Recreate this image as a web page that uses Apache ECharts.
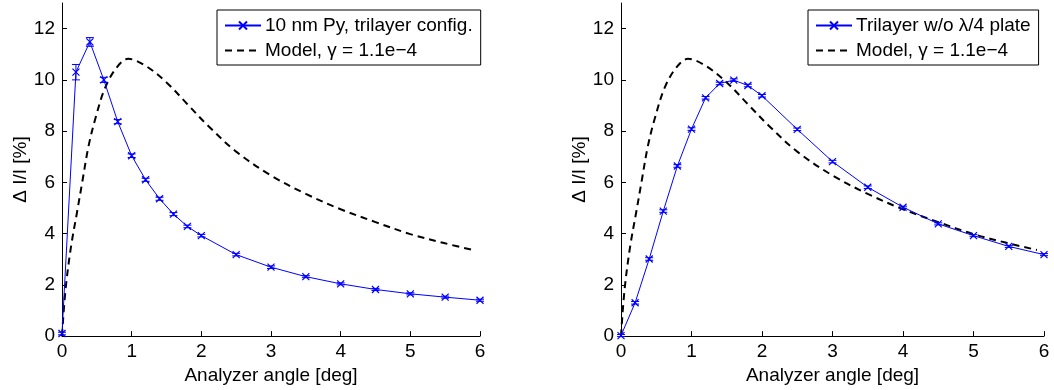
<!DOCTYPE html>
<html>
<head>
<meta charset="utf-8">
<script src="https://cdn.jsdelivr.net/npm/echarts@6/dist/echarts.min.js"></script>
<style>html,body{margin:0;padding:0;background:#fff}#c{width:1054px;height:390px}</style>
</head>
<body>
<div id="c"></div>
<script>
// ---- data ----
var angles = [0, 0.2, 0.4, 0.6, 0.8, 1.0, 1.2, 1.4, 1.6, 1.8, 2.0, 2.5, 3.0, 3.5, 4.0, 4.5, 5.0, 5.5, 6.0];
var pyTrilayer = [0.1, 10.3, 11.48, 10.0, 8.37, 7.04, 6.1, 5.36, 4.76, 4.28, 3.92, 3.18, 2.69, 2.32, 2.04, 1.82, 1.65, 1.52, 1.40];
var pyTrilayerErr = [0.05, 0.3, 0.17, 0.1, 0.08, 0.07, 0.06, 0.06, 0.06, 0.05, 0.05, 0.05, 0.05, 0.04, 0.04, 0.04, 0.04, 0.04, 0.04];
var noPlate = [0.02, 1.3, 3.01, 4.88, 6.64, 8.08, 9.3, 9.86, 9.99, 9.78, 9.38, 8.07, 6.81, 5.81, 5.03, 4.38, 3.92, 3.5, 3.18];
var noPlateErr = [0.04, 0.05, 0.05, 0.05, 0.05, 0.05, 0.05, 0.05, 0.05, 0.05, 0.05, 0.05, 0.05, 0.05, 0.04, 0.04, 0.04, 0.04, 0.04];
var modelX = [0, 0.05, 0.13, 0.22, 0.29, 0.38, 0.48, 0.62, 0.79, 0.95, 1.2, 1.5, 1.8, 2.1, 2.5, 3.0, 3.5, 4.0, 4.5, 5.0, 5.5, 5.9];
var modelY = [0, 1.8, 3.5, 4.9, 6.0, 7.4, 8.5, 9.7, 10.5, 10.82, 10.55, 9.9, 9.05, 8.2, 7.2, 6.27, 5.55, 4.95, 4.45, 3.98, 3.62, 3.36];
var xTicks = [0, 1, 2, 3, 4, 5, 6];
var yTicks = [0, 2, 4, 6, 8, 10, 12];
var nameLeft = '10 nm Py, trilayer config.';
var nameRight = 'Trilayer w/o \u03bb/4 plate';
var nameModel = 'Model, \u03b3 = 1.1e\u22124';

// ---- build ----
var FONT = 'Liberation Sans';
function zip(a, b) { return a.map(function (v, i) { return [v, b[i]]; }); }
function zip3(a, b, c) { return a.map(function (v, i) { return [v, b[i], c[i]]; }); }
var crossSym = 'path://M0,0L10,10M10,0L0,10';

function xAxisDef(gi) {
  return {
    gridIndex: gi, type: 'value', min: 0, max: 6, interval: 1,
    name: 'Analyzer angle [deg]', nameLocation: 'middle', nameGap: 24,
    nameTextStyle: { fontFamily: FONT, fontSize: 19, color: '#000' },
    axisLine: { show: true, onZero: false, lineStyle: { color: '#000', width: 1 } },
    axisTick: { show: true, inside: true, length: 5, customValues: xTicks, lineStyle: { color: '#000' } },
    axisLabel: { fontFamily: FONT, fontSize: 19, color: '#000', margin: 6, customValues: xTicks },
    splitLine: { show: false }
  };
}
function yAxisDef(gi) {
  return {
    gridIndex: gi, type: 'value', min: 0, max: 13,
    name: '\u0394 I/I [%]', nameLocation: 'middle', nameGap: 32, nameRotate: 90,
    nameTextStyle: { fontFamily: FONT, fontSize: 19, color: '#000' },
    axisLine: { show: true, onZero: false, lineStyle: { color: '#000', width: 1 } },
    axisTick: { show: true, inside: true, length: 5, customValues: yTicks, lineStyle: { color: '#000' } },
    axisLabel: { fontFamily: FONT, fontSize: 19, color: '#000', margin: 7, customValues: yTicks },
    splitLine: { show: false }
  };
}
function errSeries(gi, data) {
  return {
    type: 'custom', xAxisIndex: gi, yAxisIndex: gi, silent: true, z: 3,
    encode: { x: 0, y: 1 },
    data: data,
    renderItem: function (params, api) {
      var x = api.value(0), y = api.value(1), e = api.value(2);
      var lo = api.coord([x, y - e]), hi = api.coord([x, y + e]);
      var w = 4;
      var st = { stroke: '#0000ff', lineWidth: 1 };
      return {
        type: 'group',
        children: [
          { type: 'line', shape: { x1: lo[0], y1: lo[1], x2: hi[0], y2: hi[1] }, style: st },
          { type: 'line', shape: { x1: lo[0] - w, y1: lo[1], x2: lo[0] + w, y2: lo[1] }, style: st },
          { type: 'line', shape: { x1: hi[0] - w, y1: hi[1], x2: hi[0] + w, y2: hi[1] }, style: st }
        ]
      };
    }
  };
}
function dataSeries(gi, name, data) {
  return {
    type: 'line', name: name, xAxisIndex: gi, yAxisIndex: gi, data: data, z: 4,
    symbol: crossSym, symbolSize: 7, showSymbol: true,
    lineStyle: { color: '#0000ff', width: 1 },
    itemStyle: { color: 'rgba(0,0,0,0)', borderColor: '#0000ff', borderWidth: 1.2 },
    emphasis: { disabled: true }, animation: false
  };
}
function modelSeries(gi) {
  return {
    type: 'line', name: nameModel, xAxisIndex: gi, yAxisIndex: gi,
    data: zip(modelX, modelY), smooth: 0.35, showSymbol: false, symbol: 'none', z: 2,
    lineStyle: { color: '#000', width: 2, type: [7, 5] },
    itemStyle: { color: '#000' },
    emphasis: { disabled: true }, animation: false
  };
}
function legendDef(left, top, dataName) {
  return {
    left: left, top: top, orient: 'vertical',
    data: [
      { name: dataName },
      { name: nameModel, itemStyle: { opacity: 0 } }
    ],
    backgroundColor: '#fff', borderColor: '#000', borderWidth: 1, borderRadius: 0,
    padding: [6, 8, 5, 7], itemGap: 6, itemWidth: 36, itemHeight: 10,
    textStyle: { fontFamily: FONT, fontSize: 19, color: '#000', padding: [0, 0, 0, -1] },
    selectedMode: false
  };
}

var chart = echarts.init(document.getElementById('c'), null, { renderer: 'canvas' });
chart.setOption({
  animation: false,
  backgroundColor: '#fff',
  grid: [
    { left: 62, width: 418, top: 3, height: 334 },
    { left: 621, width: 423, top: 3, height: 334 }
  ],
  xAxis: [xAxisDef(0), xAxisDef(1)],
  yAxis: [yAxisDef(0), yAxisDef(1)],
  legend: [
    legendDef(217, 10, nameLeft),
    legendDef(808, 10, nameRight)
  ],
  series: [
    modelSeries(0),
    errSeries(0, zip3(angles, pyTrilayer, pyTrilayerErr)),
    dataSeries(0, nameLeft, zip(angles, pyTrilayer)),
    modelSeries(1),
    errSeries(1, zip3(angles, noPlate, noPlateErr)),
    dataSeries(1, nameRight, zip(angles, noPlate))
  ]
});
</script>
</body>
</html>
